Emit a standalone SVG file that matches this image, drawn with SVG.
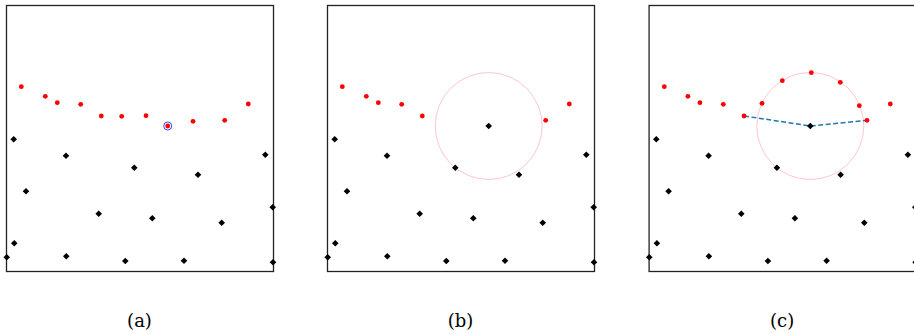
<svg xmlns="http://www.w3.org/2000/svg" xmlns:xlink="http://www.w3.org/1999/xlink" width="914" height="334" viewBox="0 0 914 334">
<style>
.frame{fill:none;stroke:#222;stroke-width:1.3}
.lbl{font-family:"DejaVu Serif","Liberation Serif",serif;font-size:18px;fill:#000;text-anchor:middle}
.ring{fill:none;stroke:#3344ff;stroke-width:1}
.pinkc{fill:none;stroke:#ffc6cf;stroke-width:1}
.dash{fill:none;stroke:#1f77b4;stroke-width:1.5;stroke-dasharray:5 2.5}
</style>
<defs>
<polygon id="dia" points="0,-3.3 3.3,0 0,3.3 -3.3,0" fill="#000"/>
<circle id="dot" r="2.4" fill="#ff0000"/>
</defs>
<rect width="914" height="334" fill="#fff"/>

<!-- Panel (a) -->
<g id="panel-a">
<rect class="frame" x="6.5" y="5.5" width="267" height="266"/>
<g id="a-black">
<use xlink:href="#dia" x="13.7" y="139.3"/><use xlink:href="#dia" x="66" y="155.7"/><use xlink:href="#dia" x="134.3" y="167.7"/><use xlink:href="#dia" x="198" y="174.7"/><use xlink:href="#dia" x="265.3" y="154.7"/>
<use xlink:href="#dia" x="26" y="191.3"/><use xlink:href="#dia" x="98.7" y="213.7"/><use xlink:href="#dia" x="152.3" y="218.3"/><use xlink:href="#dia" x="221.7" y="222.7"/><use xlink:href="#dia" x="272.7" y="207.3"/>
<use xlink:href="#dia" x="14.3" y="243.3"/><use xlink:href="#dia" x="6.7" y="257.3"/><use xlink:href="#dia" x="66.3" y="256.3"/><use xlink:href="#dia" x="125.3" y="261"/><use xlink:href="#dia" x="184" y="260.7"/><use xlink:href="#dia" x="273" y="262.3"/>
</g>
<g id="a-red">
<use xlink:href="#dot" x="21.3" y="86.7"/><use xlink:href="#dot" x="45.3" y="96.3"/><use xlink:href="#dot" x="57.3" y="102.7"/><use xlink:href="#dot" x="80.7" y="104.3"/><use xlink:href="#dot" x="101.3" y="116"/><use xlink:href="#dot" x="121.7" y="116.3"/><use xlink:href="#dot" x="146" y="115.7"/><use xlink:href="#dot" x="193" y="121.3"/><use xlink:href="#dot" x="224.7" y="120.3"/><use xlink:href="#dot" x="248.3" y="104"/>
</g>
<g id="a-selected">
<circle class="ring" cx="167.7" cy="126" r="4"/>
<use xlink:href="#dot" x="167.7" y="126"/>
</g>
<text class="lbl" x="139.5" y="327">(a)</text>
</g>

<!-- Panel (b) -->
<g id="panel-b" transform="translate(321,0)">
<rect class="frame" x="6.5" y="5.5" width="267" height="266"/>
<circle class="pinkc" cx="167.7" cy="126" r="53.5"/>
<g id="b-black">
<use xlink:href="#dia" x="13.7" y="139.3"/><use xlink:href="#dia" x="66" y="155.7"/><use xlink:href="#dia" x="134.3" y="167.7"/><use xlink:href="#dia" x="198" y="174.7"/><use xlink:href="#dia" x="265.3" y="154.7"/>
<use xlink:href="#dia" x="26" y="191.3"/><use xlink:href="#dia" x="98.7" y="213.7"/><use xlink:href="#dia" x="152.3" y="218.3"/><use xlink:href="#dia" x="221.7" y="222.7"/><use xlink:href="#dia" x="272.7" y="207.3"/>
<use xlink:href="#dia" x="14.3" y="243.3"/><use xlink:href="#dia" x="6.7" y="257.3"/><use xlink:href="#dia" x="66.3" y="256.3"/><use xlink:href="#dia" x="125.3" y="261"/><use xlink:href="#dia" x="184" y="260.7"/><use xlink:href="#dia" x="273" y="262.3"/>
</g>
<g id="b-red">
<use xlink:href="#dot" x="21.3" y="86.7"/><use xlink:href="#dot" x="45.3" y="96.3"/><use xlink:href="#dot" x="57.3" y="102.7"/><use xlink:href="#dot" x="80.7" y="104.3"/><use xlink:href="#dot" x="101.3" y="116"/><use xlink:href="#dot" x="224.7" y="120.3"/><use xlink:href="#dot" x="248.3" y="104"/>
</g>
<g id="b-center">
<use xlink:href="#dia" x="167.7" y="126"/>
</g>
<text class="lbl" x="139.5" y="327">(b)</text>
</g>

<!-- Panel (c) -->
<g id="panel-c" transform="translate(642.6,0)">
<rect class="frame" x="6.5" y="5.5" width="267" height="266"/>
<circle class="pinkc" cx="167.7" cy="126" r="53.5"/>
<g id="c-connectors">
<polyline class="dash" points="101.4,116 167.7,126 224.4,120.3"/>
</g>
<g id="c-black">
<use xlink:href="#dia" x="13.7" y="139.3"/><use xlink:href="#dia" x="66" y="155.7"/><use xlink:href="#dia" x="134.3" y="167.7"/><use xlink:href="#dia" x="198" y="174.7"/><use xlink:href="#dia" x="265.3" y="154.7"/>
<use xlink:href="#dia" x="26" y="191.3"/><use xlink:href="#dia" x="98.7" y="213.7"/><use xlink:href="#dia" x="152.3" y="218.3"/><use xlink:href="#dia" x="221.7" y="222.7"/><use xlink:href="#dia" x="272.7" y="207.3"/>
<use xlink:href="#dia" x="14.3" y="243.3"/><use xlink:href="#dia" x="6.7" y="257.3"/><use xlink:href="#dia" x="66.3" y="256.3"/><use xlink:href="#dia" x="125.3" y="261"/><use xlink:href="#dia" x="184" y="260.7"/><use xlink:href="#dia" x="273" y="262.3"/>
</g>
<g id="c-center">
<use xlink:href="#dia" x="167.7" y="126"/>
</g>
<g id="c-red">
<use xlink:href="#dot" x="21.7" y="86.7"/><use xlink:href="#dot" x="45.3" y="96.3"/><use xlink:href="#dot" x="57.3" y="102.7"/><use xlink:href="#dot" x="80.7" y="104.3"/><use xlink:href="#dot" x="101.4" y="116"/><use xlink:href="#dot" x="119.4" y="103.3"/><use xlink:href="#dot" x="139.7" y="80.7"/><use xlink:href="#dot" x="168.7" y="72.7"/><use xlink:href="#dot" x="197.7" y="82.3"/><use xlink:href="#dot" x="216.7" y="105.7"/><use xlink:href="#dot" x="224.4" y="120.3"/><use xlink:href="#dot" x="247.7" y="104"/>
</g>
<text class="lbl" x="139.5" y="327">(c)</text>
</g>
</svg>
